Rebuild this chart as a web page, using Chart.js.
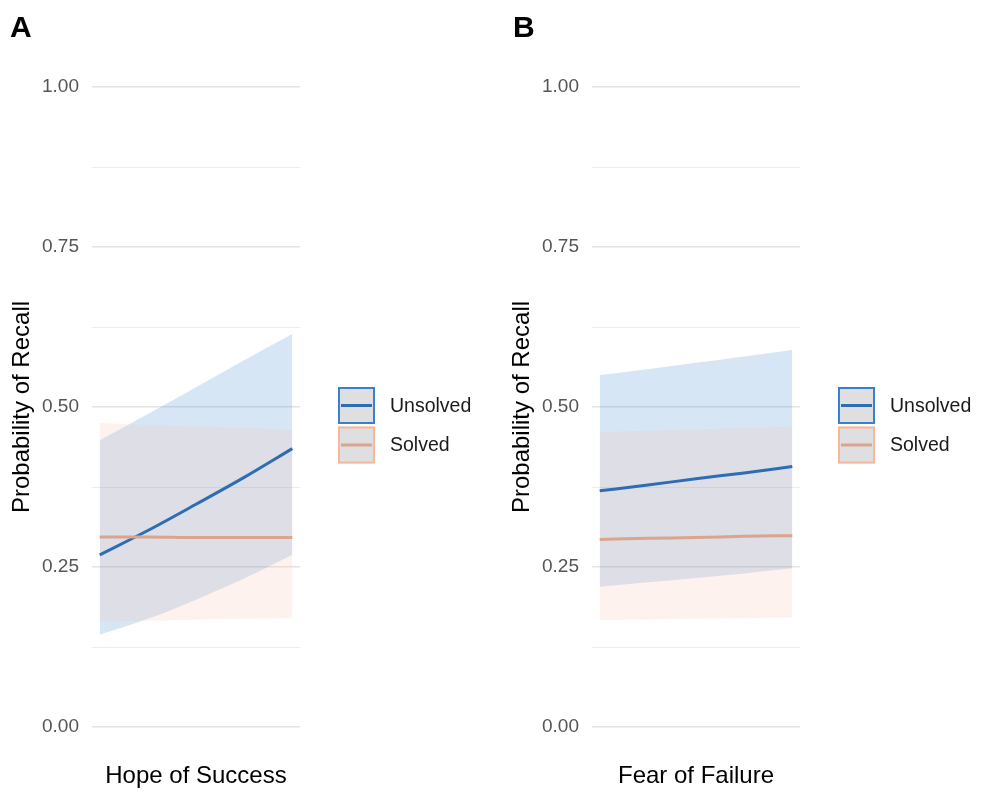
<!DOCTYPE html>
<html>
<head>
<meta charset="utf-8">
<script src="https://cdn.jsdelivr.net/npm/chart.js@4.4.1/dist/chart.umd.min.js"></script>
<style>
  body { margin: 0; background: #fff; }
  #wrap { position: relative; width: 981px; height: 793px; }
  #panelA { position: absolute; left: 0; top: 0; }
  #panelB { position: absolute; left: 500px; top: 0; }
</style>
</head>
<body>
<div id="wrap">
  <canvas id="panelA" width="500" height="793"></canvas>
  <canvas id="panelB" width="481" height="793"></canvas>
</div>
<script>
// predictor values (standardised 0..1 along the x range)
const xValues = [0, 0.25, 0.5, 0.75, 1];

const seriesNames = ['Unsolved', 'Solved'];

// panel A - Hope of Success
const hopeUnsolvedFit = [0.269, 0.307, 0.348, 0.390, 0.435];
const hopeUnsolvedLower = [0.144, 0.169, 0.199, 0.232, 0.269];
const hopeUnsolvedUpper = [0.448, 0.489, 0.531, 0.573, 0.614];
const hopeSolvedFit = [0.297, 0.297, 0.296, 0.296, 0.296];
const hopeSolvedLower = [0.165, 0.166, 0.168, 0.169, 0.170];
const hopeSolvedUpper = [0.475, 0.472, 0.469, 0.467, 0.464];

// panel B - Fear of Failure
const fearUnsolvedFit = [0.369, 0.378, 0.388, 0.397, 0.407];
const fearUnsolvedLower = [0.219, 0.226, 0.233, 0.240, 0.248];
const fearUnsolvedUpper = [0.550, 0.559, 0.569, 0.579, 0.589];
const fearSolvedFit = [0.293, 0.295, 0.296, 0.298, 0.299];
const fearSolvedLower = [0.167, 0.168, 0.169, 0.170, 0.171];
const fearSolvedUpper = [0.461, 0.463, 0.465, 0.467, 0.469];

// y ticks
const yMajorTicks = [0, 0.25, 0.5, 0.75, 1];
const yMinorTicks = [0.125, 0.375, 0.625, 0.875];

const FONT = "'Liberation Sans', Arial, sans-serif";
const blueLine = '#2e6db4';
const salmonLine = '#dba48f';
const blueFill = 'rgba(50,130,200,0.2)';
const peachFill = 'rgba(245,190,170,0.2)';

function pts(ys) {
    return xValues.map(function (x, i) { return { x: x, y: ys[i] }; });
}

// draws the panel letter and the boxed legend keys
const decor = {
    id: 'decor',
    afterDraw(chart, args, opts) {
        const ctx = chart.ctx;
        ctx.save();
        ctx.fillStyle = '#000';
        ctx.font = 'bold 30px ' + FONT;
        ctx.textBaseline = 'alphabetic';
        ctx.textAlign = 'left';
        ctx.fillText(opts.letter, opts.letterX, 37);

        const size = 37, step = 39.5;
        let top = 387;
        const left = 338;
        opts.keys.forEach(function (k) {
            ctx.fillStyle = '#dfdfe1';
            ctx.fillRect(left, top, size, size);
            ctx.strokeStyle = k.border;
            ctx.lineWidth = 2;
            ctx.strokeRect(left + 1, top + 1, size - 2, size - 2);
            ctx.strokeStyle = k.line;
            ctx.lineWidth = 3;
            ctx.beginPath();
            ctx.moveTo(left + 3, top + size / 2);
            ctx.lineTo(left + size - 3, top + size / 2);
            ctx.stroke();
            ctx.fillStyle = '#1a1a1a';
            ctx.font = '19.5px ' + FONT;
            ctx.textBaseline = 'middle';
            ctx.fillText(k.label, left + 52, top + size / 2 + 1);
            top += step;
        });
        ctx.restore();
    }
};

function makePanel(id, letter, letterX, xTitle, rightPad, uFit, uLo, uHi, sFit, sLo, sHi) {
    const curve = { pointRadius: 0, cubicInterpolationMode: 'monotone' };
    new Chart(document.getElementById(id), {
        type: 'line',
        data: {
            datasets: [
                Object.assign({ data: pts(uHi), fill: '+1', backgroundColor: blueFill, borderWidth: 0, order: 4 }, curve),
                Object.assign({ data: pts(uLo), fill: false, borderWidth: 0, order: 4 }, curve),
                Object.assign({ data: pts(sHi), fill: '+1', backgroundColor: peachFill, borderWidth: 0, order: 3 }, curve),
                Object.assign({ data: pts(sLo), fill: false, borderWidth: 0, order: 3 }, curve),
                Object.assign({ label: seriesNames[0], data: pts(uFit), borderColor: blueLine, borderWidth: 3, fill: false, order: 2 }, curve),
                Object.assign({ label: seriesNames[1], data: pts(sFit), borderColor: salmonLine, borderWidth: 3, fill: false, order: 1 }, curve)
            ]
        },
        options: {
            responsive: false,
            animation: false,
            devicePixelRatio: 1,
            layout: { padding: { left: 0, top: 55, right: rightPad, bottom: 0 } },
            plugins: {
                legend: { display: false },
                tooltip: { enabled: false },
                decor: {
                    letter: letter,
                    letterX: letterX,
                    keys: [
                        { label: seriesNames[0], line: blueLine, border: '#3a7fd0' },
                        { label: seriesNames[1], line: salmonLine, border: '#f6b89b' }
                    ]
                }
            },
            scales: {
                x: {
                    type: 'linear',
                    min: -0.04,
                    max: 1.04,
                    grid: { display: false },
                    border: { display: false },
                    ticks: { display: false },
                    title: { display: true, text: xTitle, color: '#000', font: { family: FONT, size: 24 }, padding: { top: 0, bottom: 2 } },
                    afterFit: function (s) { s.height = 34; }
                },
                y: {
                    min: -0.05,
                    max: 1.05,
                    afterBuildTicks: function (s) {
                        s.ticks = yMajorTicks.concat(yMinorTicks).sort().map(function (v) { return { value: v }; });
                    },
                    afterFit: function (s) { s.width = 92; },
                    border: { display: false },
                    grid: {
                        drawTicks: false,
                        color: function (c) { return yMajorTicks.indexOf(c.tick.value) >= 0 ? '#e4e4e4' : '#eaeaea'; },
                        lineWidth: function (c) { return yMajorTicks.indexOf(c.tick.value) >= 0 ? 1.4 : 0.9; }
                    },
                    ticks: {
                        autoSkip: false,
                        padding: 13,
                        color: '#555',
                        font: { family: FONT, size: 19 },
                        callback: function (v) { return yMajorTicks.indexOf(v) >= 0 ? v.toFixed(2) : ''; }
                    },
                    title: { display: true, text: 'Probability of Recall', color: '#000', font: { family: FONT, size: 24 }, padding: { top: 8, bottom: 0 } }
                }
            }
        },
        plugins: [decor]
    });
}

makePanel('panelA', 'A', 10, 'Hope of Success', 200,
    hopeUnsolvedFit, hopeUnsolvedLower, hopeUnsolvedUpper, hopeSolvedFit, hopeSolvedLower, hopeSolvedUpper);
makePanel('panelB', 'B', 13, 'Fear of Failure', 181,
    fearUnsolvedFit, fearUnsolvedLower, fearUnsolvedUpper, fearSolvedFit, fearSolvedLower, fearSolvedUpper);
</script>
</body>
</html>
